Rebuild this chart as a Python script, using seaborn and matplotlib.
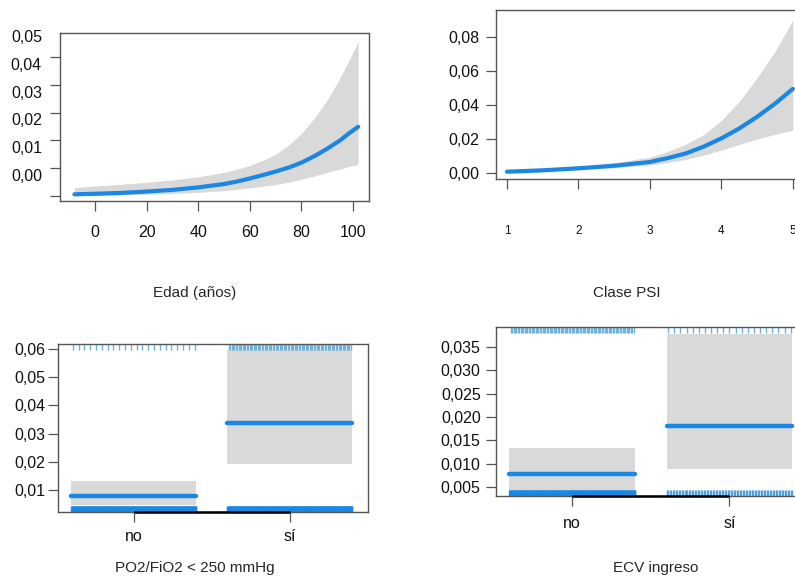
import numpy as np
import pandas as pd
import matplotlib
matplotlib.use('Agg')
import matplotlib.pyplot as plt
from matplotlib.transforms import ScaledTranslation, blended_transform_factory
import seaborn as sns

# --- Edad (años) ---
edad = [-8, 0, 10, 20, 30, 40, 50, 55, 60, 65, 70, 75, 80, 85, 90, 95, 98, 102]
edad_fit = [0.0006, 0.0008, 0.0011, 0.0016, 0.0022, 0.0031, 0.0043, 0.0052, 0.0063, 0.0075, 0.0088, 0.0102, 0.0120, 0.0143, 0.0170, 0.0200, 0.0222, 0.0249]
edad_hi = [0.0030, 0.0036, 0.0042, 0.0049, 0.0058, 0.0069, 0.0085, 0.0096, 0.0110, 0.0128, 0.0150, 0.0183, 0.0225, 0.0280, 0.0345, 0.0425, 0.0480, 0.0555]
edad_lo = [0.0001, 0.0003, 0.0004, 0.0006, 0.0009, 0.0013, 0.0019, 0.0024, 0.0029, 0.0035, 0.0041, 0.0050, 0.0060, 0.0072, 0.0085, 0.0097, 0.0105, 0.0113]
edad_yticklabels = ['0,00', '0,01', '0,02', '0,03', '0,04', '0,05']

# --- Clase PSI ---
psi = [1, 1.5, 2, 2.5, 3, 3.25, 3.5, 3.75, 4, 4.25, 4.5, 4.75, 5]
psi_fit = [0.0008, 0.0016, 0.0028, 0.0043, 0.0065, 0.0088, 0.0115, 0.0155, 0.0204, 0.0262, 0.0331, 0.0408, 0.0495]
psi_hi = [0.0015, 0.0026, 0.0040, 0.0060, 0.0094, 0.0127, 0.0170, 0.0225, 0.0310, 0.0420, 0.0560, 0.0715, 0.0900]
psi_lo = [0.0003, 0.0009, 0.0019, 0.0031, 0.0047, 0.0062, 0.0080, 0.0105, 0.0135, 0.0168, 0.0200, 0.0228, 0.0253]
psi_yticklabels = ['0,00', '0,02', '0,04', '0,06', '0,08']

# --- PO2/FiO2 < 250 mmHg ---
po2_cats = ['no', 'sí']
po2_fit = [0.0079, 0.0339]
po2_hi = [0.0132, 0.0598]
po2_lo = [0.0047, 0.0194]
po2_rug_top = [22, 90]
po2_rug_bottom = [260, 260]
po2_yticklabels = ['0,01', '0,02', '0,03', '0,04', '0,05', '0,06']

# --- ECV ingreso ---
ecv_cats = ['no', 'sí']
ecv_fit = [0.0078, 0.0181]
ecv_hi = [0.0134, 0.0378]
ecv_lo = [0.0043, 0.0089]
ecv_rug_top = [90, 21]
ecv_rug_bottom = [260, 85]
ecv_yticklabels = ['0,005', '0,010', '0,015', '0,020', '0,025', '0,030', '0,035']

BLUE = '#1a87e3'
RUG = '#6fb2dc'
BAND = '#d9d9d9'
FRAME = '#555555'

sns.set_theme(style='white')
plt.rcParams['font.family'] = ['Liberation Sans', 'DejaVu Sans']

W, H = 795, 577
fig = plt.figure(figsize=(W / 100, H / 100), dpi=100)


def add_axes(x0, y0, x1, y1):
    return fig.add_axes([x0 / W, 1 - y1 / H, (x1 - x0) / W, (y1 - y0) / H])


def style(ax):
    for s in ax.spines.values():
        s.set_color(FRAME)
        s.set_linewidth(1.0)
    ax.tick_params(axis='both', direction='out', length=7, width=0.9,
                   bottom=True, left=True, top=False, right=False,
                   color=FRAME, labelsize=11.5, labelcolor='#111111')


# panel 1
ax1 = add_axes(60, 33, 369, 201)
df1 = pd.DataFrame({'x': edad, 'y': edad_fit})
ax1.fill_between(edad, edad_lo, edad_hi, color=BAND, lw=0)
sns.lineplot(data=df1, x='x', y='y', ax=ax1, color=BLUE, lw=3)
ax1.set_xlim(-13.6, 106.2)
ax1.set_ylim(-0.0018, 0.0586)
ax1.set_xticks([0, 20, 40, 60, 80, 100])
ax1.set_yticks([0, 0.01, 0.02, 0.03, 0.04, 0.05])
ax1.set_yticklabels(edad_yticklabels)
style(ax1)
ax1.tick_params(axis='x', pad=10)
ax1.tick_params(axis='y', pad=6)
for lab in ax1.get_yticklabels():
    lab.set_transform(lab.get_transform() + ScaledTranslation(0, 0.21, fig.dpi_scale_trans))

# panel 2
ax2 = add_axes(496, 10, 805, 179)
df2 = pd.DataFrame({'x': psi, 'y': psi_fit})
ax2.fill_between(psi, psi_lo, psi_hi, color=BAND, lw=0)
sns.lineplot(data=df2, x='x', y='y', ax=ax2, color=BLUE, lw=3)
ax2.set_xlim(0.846, 5.17)
ax2.set_ylim(-0.0035, 0.0959)
ax2.set_xticks([1, 2, 3, 4, 5])
ax2.set_yticks([0, 0.02, 0.04, 0.06, 0.08])
ax2.set_yticklabels(psi_yticklabels)
style(ax2)
ax2.tick_params(axis='x', labelsize=8.5, pad=26)
ax2.tick_params(axis='y', pad=5)


def factor_panel(ax, cats, fit, lo, hi, rug_top, rug_bottom, bottom_colors, ylim):
    ax.set_xlim(-0.485, 1.5)
    ax.set_ylim(*ylim)
    trans = blended_transform_factory(ax.transData, ax.transAxes)
    for i, c in enumerate(cats):
        xs = [i - 0.4, i + 0.4]
        ax.fill_between(xs, [lo[i]] * 2, [hi[i]] * 2, color=BAND, lw=0)
        sns.lineplot(x=xs, y=[fit[i]] * 2, ax=ax, color=BLUE, lw=3.2)
        top_x = np.linspace(i - 0.39, i + 0.39, rug_top[i])
        ax.vlines(top_x, 0.965, 1.0, transform=trans, color=RUG, lw=1.0)
        bot_x = np.linspace(i - 0.4, i + 0.4, rug_bottom[i])
        ax.vlines(bot_x, 0.0, 0.033, transform=trans, color=bottom_colors[i], lw=1.0)
    ax.set_xticks(range(len(cats)))
    ax.set_xticklabels(cats)
    style(ax)
    ax.hlines(ylim[0], 0, len(cats) - 1, color='black', lw=1.8, clip_on=False, zorder=5)


# panel 3
ax3 = add_axes(58, 344, 368, 512)
factor_panel(ax3, po2_cats, po2_fit, po2_lo, po2_hi, po2_rug_top, po2_rug_bottom,
             [BLUE, BLUE], (0.0022, 0.0618))
ax3.set_yticks([0.01, 0.02, 0.03, 0.04, 0.05, 0.06])
ax3.set_yticklabels(po2_yticklabels)
ax3.tick_params(axis='y', pad=2)
ax3.tick_params(axis='x', pad=5.5)

# panel 4
ax4 = add_axes(496, 327, 808, 496)
factor_panel(ax4, ecv_cats, ecv_fit, ecv_lo, ecv_hi, ecv_rug_top, ecv_rug_bottom,
             [BLUE, '#4da3e0'], (0.0031, 0.0393))
ax4.set_yticks([0.005, 0.010, 0.015, 0.020, 0.025, 0.030, 0.035])
ax4.set_yticklabels(ecv_yticklabels)
ax4.tick_params(axis='y', pad=4)
ax4.tick_params(axis='x', pad=7.5)

for a in (ax1, ax2, ax3, ax4):
    a.set_xlabel('')
    a.set_ylabel('')

# axis titles below each panel
fig.text(195 / W, 1 - 293 / H, 'Edad (años)', ha='center', va='center', fontsize=11)
fig.text(627 / W, 1 - 293 / H, 'Clase PSI', ha='center', va='center', fontsize=11)
fig.text(195 / W, 1 - 568 / H, 'PO2/FiO2 < 250 mmHg', ha='center', va='center', fontsize=11)
fig.text(656 / W, 1 - 568 / H, 'ECV ingreso', ha='center', va='center', fontsize=11)

fig.savefig('out.png', dpi=100)
